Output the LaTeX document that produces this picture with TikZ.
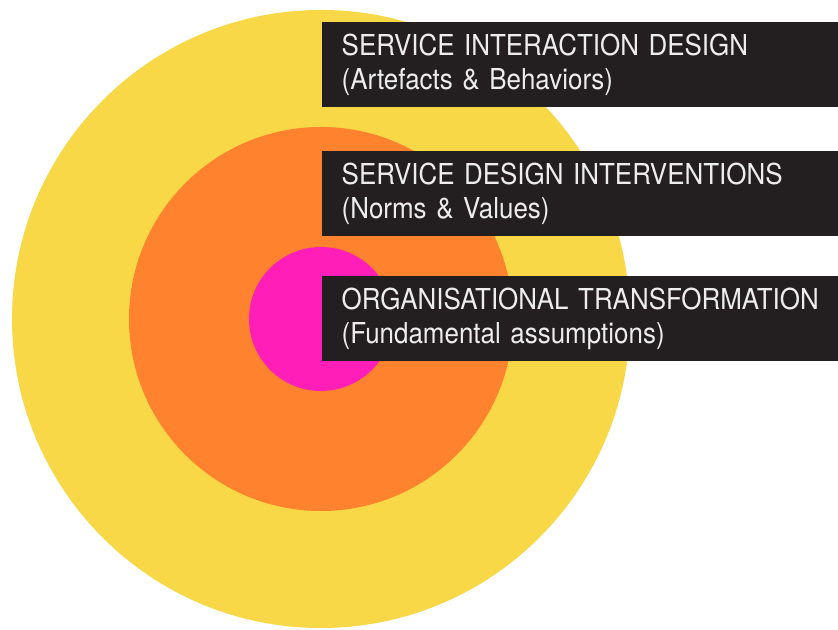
\documentclass[tikz,border=0pt]{standalone}
\usepackage{fontspec}
\setmainfont{TeX Gyre Heros}[FakeStretch=0.9]
\definecolor{ringyellow}{HTML}{F8D847}
\definecolor{ringorange}{HTML}{FF832E}
\definecolor{ringpink}{HTML}{FF1FB8}
\definecolor{bandblack}{HTML}{231F20}
\definecolor{bandtext}{HTML}{EDEDED}
\begin{document}
\begin{tikzpicture}[%
  disc/.style={circle,inner sep=0pt,draw=none},
  band/.style={fill=bandblack,anchor=west,minimum height=0.85cm,
    inner xsep=0.2cm,inner ysep=0pt,text width=5.2cm,align=left,
    text=bandtext,font=\fontsize{8.2}{9.7}\selectfont}]
  \useasboundingbox (-3.21,-3.11) rectangle (5.17,3.19);
  % the three rings
  \node[disc,fill=ringyellow,minimum size=6.18cm] (outer) at (0,0) {};
  \node[disc,fill=ringorange,minimum size=3.84cm] (middle) at (0,0) {};
  \node[disc,fill=ringpink,minimum size=1.44cm] (inner) at (0,0) {};
  % labels
  \node[band] (sid) at (0,2.54) {SERVICE INTERACTION DESIGN\\(Artefacts \& Behaviors)};
  \node[band] (sdi) at (0,1.255) {SERVICE DESIGN INTERVENTIONS\\(Norms \& Values)};
  \node[band] (ot) at (0,0) {ORGANISATIONAL TRANSFORMATION\\(Fundamental assumptions)};
\end{tikzpicture}
\end{document}
